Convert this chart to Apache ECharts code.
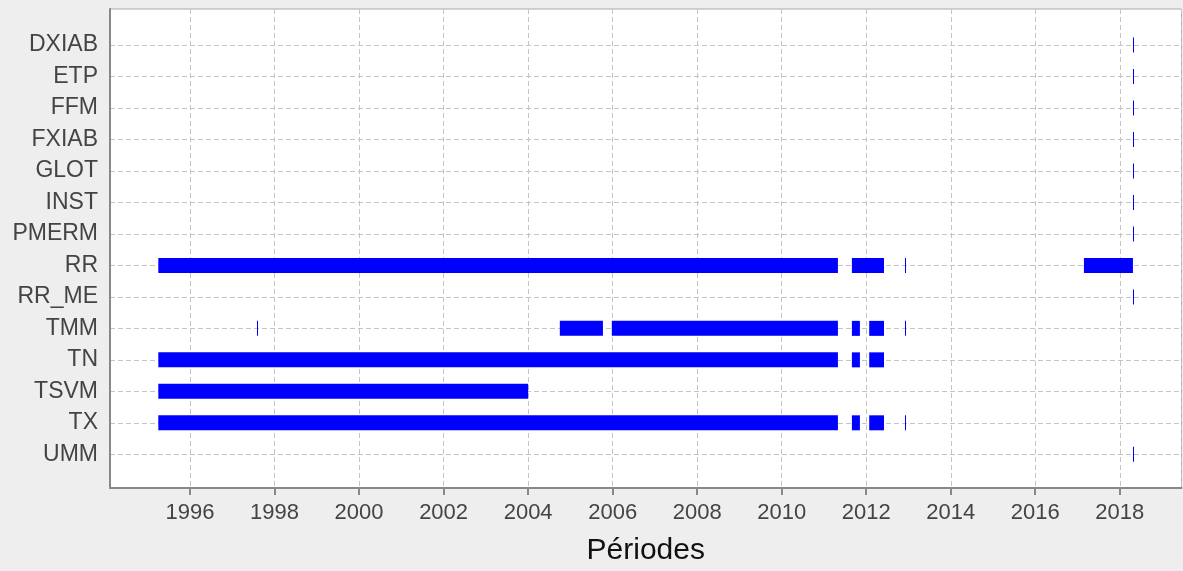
<!DOCTYPE html>
<html>
<head>
<meta charset="utf-8">
<script src="https://cdn.jsdelivr.net/npm/echarts@6/dist/echarts.min.js"></script>
<style>
html,body{margin:0;padding:0;background:#eeeeee;}
#chart{width:1183px;height:571px;}
</style>
</head>
<body>
<div id="chart"></div>
<script>
// Categories (top to bottom)
const categories = ['DXIAB','ETP','FFM','FXIAB','GLOT','INST','PMERM','RR','RR_ME','TMM','TN','TSVM','TX','UMM'];

// Periods per category, in decimal years [start, end]
const DXIAB = [[2018.32, 2018.32]];
const ETP   = [[2018.32, 2018.32]];
const FFM   = [[2018.32, 2018.32]];
const FXIAB = [[2018.32, 2018.32]];
const GLOT  = [[2018.32, 2018.32]];
const INST  = [[2018.32, 2018.32]];
const PMERM = [[2018.32, 2018.32]];
const RR    = [[1995.25, 2011.33], [2011.66, 2012.42], [2012.92, 2012.92], [2017.15, 2018.31]];
const RR_ME = [[2018.32, 2018.32]];
const TMM   = [[1997.59, 1997.59], [2004.75, 2005.77], [2005.98, 2011.33], [2011.66, 2011.85], [2012.07, 2012.42], [2012.92, 2012.92]];
const TN    = [[1995.25, 2011.33], [2011.66, 2011.85], [2012.07, 2012.42]];
const TSVM  = [[1995.25, 2004.00]];
const TX    = [[1995.25, 2011.33], [2011.66, 2011.85], [2012.07, 2012.42], [2012.92, 2012.92]];
const UMM   = [[2018.32, 2018.32]];

const rows = [DXIAB, ETP, FFM, FXIAB, GLOT, INST, PMERM, RR, RR_ME, TMM, TN, TSVM, TX, UMM];

// X axis extent and tick labels (years)
const xMin = 1994.107;
const xMax = 2019.459;
const xTicks = [1996, 1998, 2000, 2002, 2004, 2006, 2008, 2010, 2012, 2014, 2016, 2018];

const data = [];
rows.forEach((segs, i) => segs.forEach(s => data.push([s[0], s[1], i])));

const FONT = '"Liberation Sans", Arial, sans-serif';
const chart = echarts.init(document.getElementById('chart'));
chart.setOption({
  backgroundColor: '#eeeeee',
  animation: false,
  grid: [
    {left: 110, right: 1.5, top: 9, bottom: 81, show: true, backgroundColor: '#ffffff', borderColor: '#aaaaaa', borderWidth: 1},
    {left: 110, right: 1.5, top: 45, bottom: 116.7}
  ],
  xAxis: [
    {
      type: 'value', gridIndex: 0, min: xMin, max: xMax, splitNumber: 13,
      name: 'Périodes', nameLocation: 'middle', nameGap: 48,
      nameTextStyle: {fontSize: 30, color: '#111111', fontFamily: FONT},
      axisLine: {show: true, onZero: false, lineStyle: {color: '#888888', width: 2}},
      axisTick: {show: false},
      axisLabel: {customValues: xTicks, fontSize: 22, color: '#444444', margin: 14, fontFamily: FONT,
                  formatter: function (v) { return String(Math.round(v)); }},
      splitLine: {show: true, lineStyle: {type: [5, 3], color: '#c4c4c4', width: 1}}
    },
    {type: 'value', gridIndex: 1, min: xMin, max: xMax, show: false}
  ],
  yAxis: [
    {
      type: 'value', gridIndex: 0, min: 0, max: 1,
      axisLine: {show: true, onZero: false, lineStyle: {color: '#888888', width: 2}},
      axisTick: {show: false}, axisLabel: {show: false}, splitLine: {show: false}
    },
    {
      type: 'category', gridIndex: 1, data: categories, inverse: true, boundaryGap: false,
      axisLine: {show: false}, axisTick: {show: false},
      axisLabel: {fontSize: 23, color: '#444444', margin: 12, fontFamily: FONT},
      splitLine: {show: true, lineStyle: {type: [5, 3], color: '#c4c4c4', width: 1}}
    }
  ],
  series: [{
    type: 'custom',
    xAxisIndex: 1, yAxisIndex: 1,
    encode: {x: [0, 1], y: 2},
    data: data,
    renderItem: function (params, api) {
      const p1 = api.coord([api.value(0), api.value(2)]);
      const p2 = api.coord([api.value(1), api.value(2)]);
      const h = 15;
      let x = p1[0];
      let w = p2[0] - p1[0];
      if (w < 1) { x = Math.round(x); w = 1; }
      return {
        type: 'rect',
        shape: {x: x, y: p1[1] - h / 2, width: w, height: h},
        style: {fill: '#0000ff'}
      };
    }
  }, {
    // outward axis tick marks at the labelled years
    type: 'custom',
    xAxisIndex: 0, yAxisIndex: 0,
    silent: true, clip: false, z: 5,
    encode: {x: 0, y: 1},
    data: xTicks.map(v => [v, 0]),
    renderItem: function (params, api) {
      const p = api.coord([api.value(0), api.value(1)]);
      return {
        type: 'rect',
        shape: {x: Math.round(p[0]) - 1, y: p[1], width: 2, height: 7},
        style: {fill: '#888888'}
      };
    }
  }]
});
</script>
</body>
</html>
